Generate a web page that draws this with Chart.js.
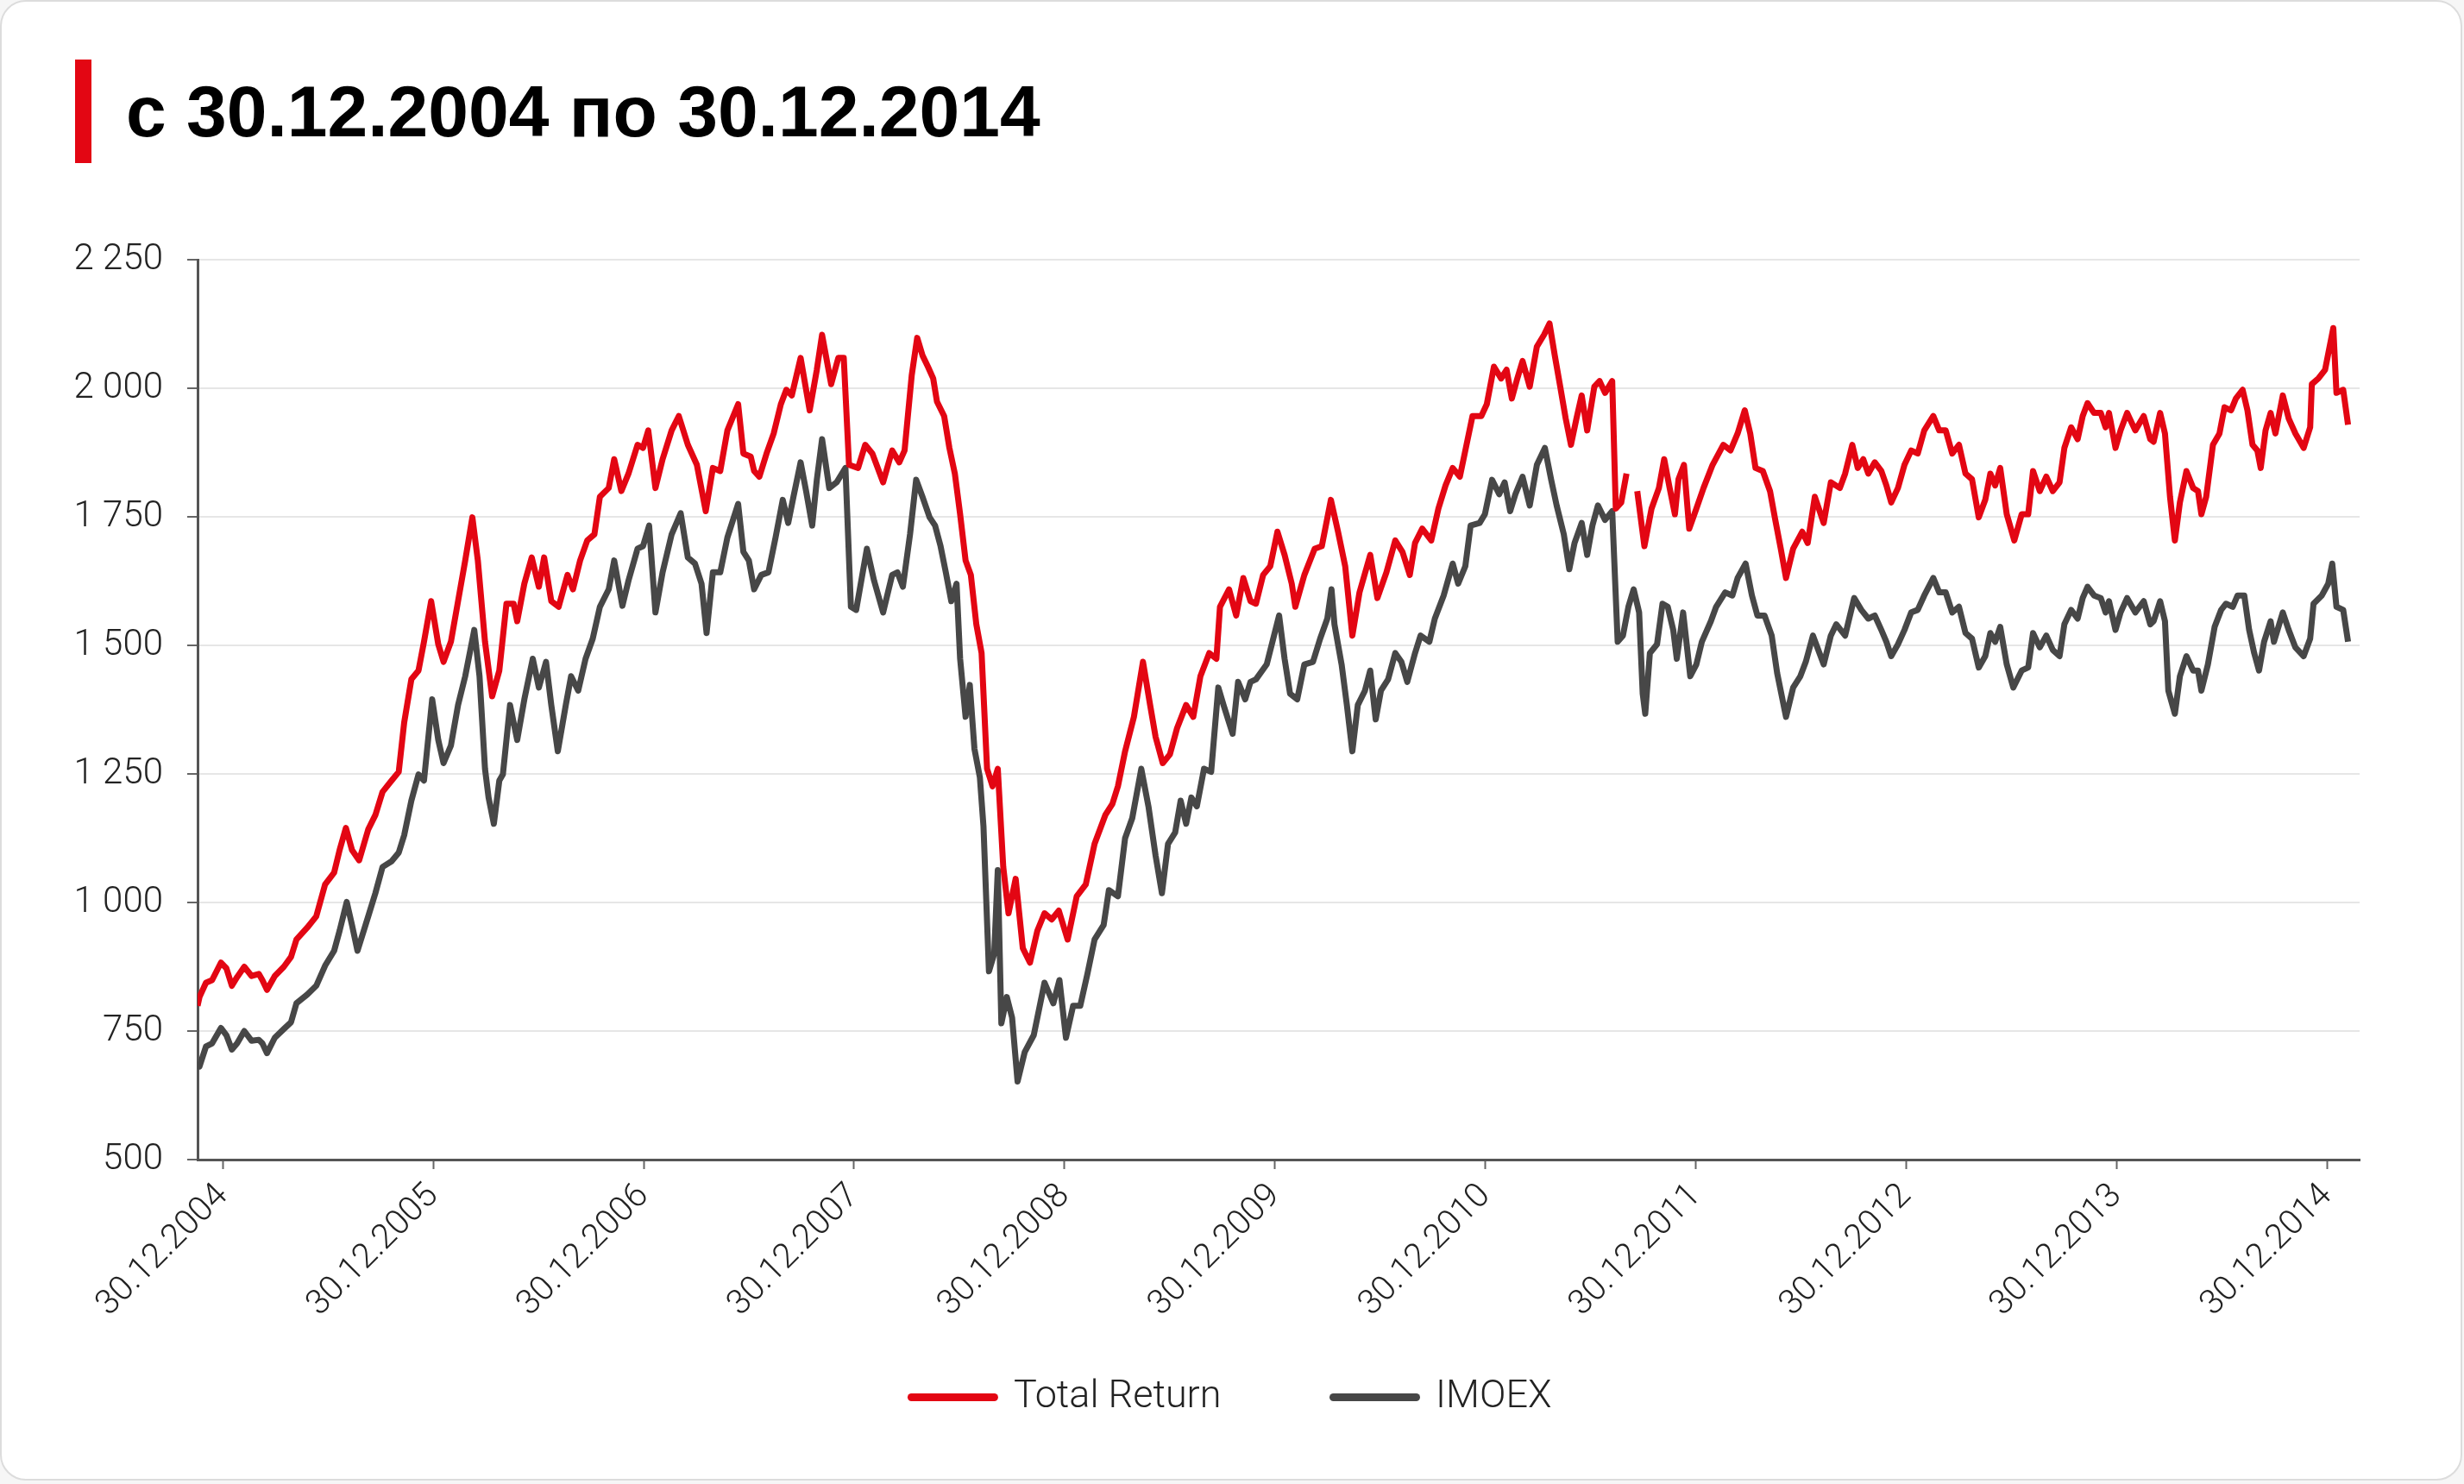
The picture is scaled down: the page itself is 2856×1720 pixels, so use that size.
<!DOCTYPE html>
<html>
<head>
<meta charset="utf-8">
<script src="https://cdn.jsdelivr.net/npm/chart.js@4.4.1/dist/chart.umd.min.js"></script>
<style>
  html, body { margin: 0; padding: 0; background: #f6f6f6; }
  .card {
    position: absolute; left: 0; top: 0; width: 2850px; height: 1712px;
    background: #fff; border: 2px solid #dcdcdc; border-radius: 30px;
  }
  .bar { position: absolute; left: 87px; top: 69px; width: 19px; height: 120px; background: #e30613; }
  .title {
    position: absolute; left: 146px; top: 87px; margin: 0;
    font: bold 84px/84px "Liberation Sans", Arial, sans-serif; color: #000; white-space: nowrap;
  }
  .wrap { position: absolute; left: 0; top: 0; width: 2856px; height: 1720px; }
</style>
</head>
<body>
<div class="card"></div>
<div class="bar"></div>
<h1 class="title">с 30.12.2004 по 30.12.2014</h1>
<div class="wrap"><canvas id="chart"></canvas></div>
<script>
// tick labels (x = years after 30.12.2004)
var tickLabels = ["30.12.2004", "30.12.2005", "30.12.2006", "30.12.2007", "30.12.2008", "30.12.2009",
  "30.12.2010", "30.12.2011", "30.12.2012", "30.12.2013", "30.12.2014"];

// Total Return
var trTime = [
  -0.12, -0.111, -0.08, -0.051, -0.009, 0.017, 0.043, 0.068, 0.102, 0.137, 0.171, 0.188, 0.21, 0.247, 0.29, 0.324, 0.35, 0.401, 0.444, 0.486,
  0.529, 0.555, 0.585, 0.614, 0.648, 0.691, 0.725, 0.759, 0.802, 0.836, 0.862, 0.896, 0.93, 0.956, 0.99, 1.024, 1.049, 1.084, 1.118, 1.152,
  1.186, 1.212, 1.246, 1.28, 1.314, 1.348, 1.382, 1.399, 1.433, 1.468, 1.502, 1.527, 1.561, 1.596, 1.638, 1.664, 1.698, 1.732, 1.766, 1.792,
  1.834, 1.86, 1.894, 1.928, 1.971, 1.997, 2.022, 2.056, 2.09, 2.133, 2.167, 2.21, 2.253, 2.295, 2.329, 2.364, 2.398, 2.449, 2.474, 2.509,
  2.525, 2.55, 2.584, 2.618, 2.652, 2.678, 2.704, 2.746, 2.789, 2.823, 2.848, 2.891, 2.925, 2.951, 2.976, 3.019, 3.053, 3.087, 3.138, 3.181,
  3.215, 3.24, 3.274, 3.3, 3.325, 3.351, 3.376, 3.394, 3.428, 3.453, 3.479, 3.504, 3.53, 3.555, 3.581, 3.606, 3.632, 3.658, 3.683, 3.709,
  3.734, 3.768, 3.802, 3.836, 3.871, 3.905, 3.939, 3.973, 4.015, 4.058, 4.101, 4.143, 4.194, 4.228, 4.254, 4.288, 4.33, 4.373, 4.407, 4.433,
  4.467, 4.501, 4.535, 4.578, 4.612, 4.646, 4.688, 4.722, 4.739, 4.782, 4.816, 4.85, 4.884, 4.91, 4.944, 4.978, 5.012, 5.046, 5.08, 5.097,
  5.14, 5.189, 5.223, 5.266, 5.3, 5.334, 5.368, 5.402, 5.453, 5.487, 5.53, 5.572, 5.606, 5.641, 5.666, 5.7, 5.743, 5.777, 5.811, 5.845,
  5.879, 5.905, 5.939, 5.981, 6.007, 6.041, 6.075, 6.101, 6.126, 6.152, 6.177, 6.211, 6.245, 6.279, 6.305, 6.33, 6.356, 6.382, 6.407, 6.433,
  6.458, 6.484, 6.518, 6.543, 6.569, 6.603, 6.62, 6.646, 6.671, 6.697, 6.722, 6.756, 6.79, 6.825, 6.85, 6.876, 6.901, 6.918, 6.944, 6.969,
  7.003, 7.037, 7.08, 7.131, 7.165, 7.199, 7.233, 7.259, 7.284, 7.319, 7.353, 7.378, 7.404, 7.429, 7.463, 7.506, 7.532, 7.566, 7.608, 7.642,
  7.685, 7.71, 7.744, 7.77, 7.796, 7.82, 7.851, 7.882, 7.906, 7.929, 7.961, 7.992, 8.024, 8.055, 8.086, 8.129, 8.157, 8.188, 8.219, 8.251,
  8.282, 8.313, 8.345, 8.376, 8.4, 8.423, 8.447, 8.478, 8.514, 8.549, 8.58, 8.603, 8.635, 8.666, 8.697, 8.729, 8.752, 8.784, 8.815, 8.839,
  8.862, 8.893, 8.925, 8.948, 8.964, 8.995, 9.019, 9.05, 9.089, 9.129, 9.16, 9.176, 9.207, 9.23, 9.254, 9.277, 9.301, 9.332, 9.364, 9.387,
  9.403, 9.426, 9.458, 9.489, 9.513, 9.544, 9.567, 9.599, 9.622, 9.646, 9.669, 9.685, 9.708, 9.732, 9.755, 9.79, 9.818, 9.85, 9.889, 9.92,
  9.928, 9.959, 9.991, 10.03, 10.045, 10.077, 10.1
];
var trValue = [
  799, 816, 844, 849, 883, 872, 838, 855, 875, 857, 861, 849, 830, 857, 875, 894, 928, 951, 973, 1035,
  1058, 1102, 1145, 1102, 1082, 1142, 1170, 1215, 1237, 1254, 1350, 1434, 1451, 1507, 1586, 1502, 1468, 1507, 1586, 1665,
  1749, 1665, 1507, 1401, 1451, 1581, 1581, 1547, 1620, 1671, 1614, 1671, 1586, 1575, 1637, 1609, 1665, 1704, 1716, 1789,
  1806, 1862, 1800, 1834, 1890, 1884, 1918, 1806, 1862, 1918, 1946, 1890, 1851, 1761, 1845, 1839, 1918, 1969, 1873, 1867,
  1839, 1828, 1873, 1912, 1969, 1997, 1986, 2059, 1957, 2036, 2104, 2008, 2059, 2059, 1851, 1845, 1890, 1873, 1817, 1879,
  1856, 1879, 2025, 2098, 2064, 2042, 2019, 1974, 1946, 1884, 1834, 1755, 1665, 1637, 1541, 1485, 1260, 1226, 1260, 1069,
  979, 1046, 911, 883, 945, 979, 967, 984, 928, 1012, 1035, 1114, 1170, 1192, 1226, 1294, 1361, 1468, 1384, 1322,
  1271, 1288, 1339, 1384, 1361, 1440, 1485, 1474, 1575, 1609, 1558, 1631, 1586, 1581, 1637, 1654, 1721, 1676, 1620, 1575,
  1637, 1688, 1693, 1783, 1721, 1654, 1519, 1603, 1676, 1592, 1642, 1704, 1682, 1637, 1699, 1727, 1704, 1766, 1811, 1845,
  1828, 1879, 1946, 1946, 1969, 2042, 2019, 2036, 1980, 2019, 2053, 2003, 2081, 2104, 2126, 2064, 2003, 1941, 1890, 1941,
  1986, 1918, 2003, 2014, 1991, 2014, 1766, 1778, 1834, null, 1800, 1693, 1766, 1806, 1862, 1806, 1755, 1823, 1851, 1727,
  1766, 1806, 1851, 1890, 1879, 1912, 1957, 1912, 1845, 1839, 1800, 1744, 1688, 1631, 1688, 1721, 1699, 1789, 1738, 1817,
  1806, 1834, 1890, 1845, 1862, 1834, 1856, 1839, 1811, 1778, 1806, 1851, 1879, 1873, 1918, 1946, 1918, 1918, 1873, 1890,
  1834, 1823, 1749, 1783, 1834, 1811, 1845, 1755, 1704, 1755, 1755, 1839, 1800, 1828, 1800, 1817, 1884, 1924, 1901, 1946,
  1971, 1952, 1952, 1924, 1952, 1884, 1918, 1952, 1918, 1946, 1901, 1896, 1952, 1912, 1789, 1704, 1778, 1839, 1806, 1800,
  1755, 1789, 1890, 1912, 1963, 1957, 1980, 1997, 1957, 1890, 1879, 1845, 1918, 1952, 1912, 1986, 1941, 1912, 1884, 1924,
  2008, 2019, 2036, 2117, 1991, 1997, 1929
];

// IMOEX
var imoexTime = [
  -0.12, -0.111, -0.08, -0.051, -0.009, 0.017, 0.043, 0.068, 0.102, 0.137, 0.171, 0.188, 0.21, 0.247, 0.29, 0.324, 0.35, 0.401, 0.444, 0.486,
  0.529, 0.555, 0.589, 0.614, 0.64, 0.691, 0.725, 0.759, 0.802, 0.836, 0.862, 0.896, 0.93, 0.956, 0.995, 1.024, 1.049, 1.084, 1.118, 1.152,
  1.195, 1.22, 1.246, 1.263, 1.288, 1.314, 1.331, 1.365, 1.399, 1.433, 1.473, 1.502, 1.536, 1.561, 1.592, 1.63, 1.655, 1.689, 1.724, 1.758,
  1.792, 1.834, 1.86, 1.899, 1.928, 1.971, 1.997, 2.026, 2.056, 2.09, 2.133, 2.176, 2.21, 2.244, 2.275, 2.299, 2.329, 2.364, 2.398, 2.449,
  2.474, 2.5, 2.525, 2.559, 2.593, 2.627, 2.661, 2.687, 2.712, 2.746, 2.772, 2.801, 2.823, 2.848, 2.882, 2.917, 2.959, 2.985, 3.01, 3.061,
  3.095, 3.138, 3.181, 3.206, 3.232, 3.266, 3.295, 3.325, 3.359, 3.385, 3.411, 3.436, 3.462, 3.487, 3.504, 3.53, 3.55, 3.572, 3.598, 3.615,
  3.641, 3.666, 3.683, 3.7, 3.726, 3.751, 3.777, 3.811, 3.854, 3.905, 3.947, 3.976, 4.007, 4.041, 4.075, 4.109, 4.143, 4.186, 4.211, 4.254,
  4.288, 4.322, 4.365, 4.399, 4.433, 4.463, 4.492, 4.526, 4.552, 4.578, 4.603, 4.629, 4.663, 4.697, 4.731, 4.756, 4.799, 4.825, 4.859, 4.884,
  4.91, 4.961, 5.02, 5.046, 5.072, 5.106, 5.14, 5.181, 5.215, 5.249, 5.269, 5.283, 5.317, 5.342, 5.368, 5.394, 5.428, 5.453, 5.479, 5.504,
  5.538, 5.572, 5.601, 5.629, 5.666, 5.692, 5.734, 5.76, 5.802, 5.845, 5.871, 5.905, 5.93, 5.973, 5.998, 6.032, 6.066, 6.092, 6.118, 6.143,
  6.177, 6.211, 6.245, 6.283, 6.313, 6.339, 6.373, 6.399, 6.424, 6.458, 6.484, 6.509, 6.535, 6.569, 6.603, 6.629, 6.654, 6.68, 6.705, 6.731,
  6.748, 6.76, 6.782, 6.816, 6.842, 6.867, 6.893, 6.91, 6.94, 6.974, 7.003, 7.029, 7.072, 7.097, 7.14, 7.174, 7.199, 7.237, 7.267, 7.293,
  7.327, 7.361, 7.387, 7.429, 7.463, 7.497, 7.523, 7.557, 7.608, 7.642, 7.668, 7.71, 7.753, 7.787, 7.82, 7.851, 7.882, 7.906, 7.929, 7.961,
  7.992, 8.024, 8.055, 8.086, 8.129, 8.157, 8.188, 8.219, 8.251, 8.282, 8.313, 8.345, 8.376, 8.4, 8.423, 8.447, 8.478, 8.509, 8.549, 8.58,
  8.603, 8.635, 8.666, 8.697, 8.729, 8.752, 8.784, 8.815, 8.839, 8.862, 8.893, 8.925, 8.948, 8.964, 8.995, 9.019, 9.05, 9.089, 9.129, 9.16,
  9.176, 9.207, 9.23, 9.246, 9.277, 9.301, 9.332, 9.364, 9.387, 9.403, 9.434, 9.466, 9.497, 9.52, 9.552, 9.575, 9.607, 9.63, 9.654, 9.677,
  9.701, 9.732, 9.748, 9.79, 9.818, 9.85, 9.889, 9.92, 9.936, 9.975, 10.006, 10.025, 10.045, 10.077, 10.1
];
var imoexValue = [
  686, 681, 720, 726, 756, 742, 714, 726, 750, 731, 733, 726, 707, 737, 754, 767, 804, 821, 838, 877,
  906, 945, 1001, 956, 906, 973, 1018, 1069, 1080, 1097, 1131, 1198, 1249, 1237, 1395, 1316, 1271, 1305, 1384, 1440,
  1530, 1440, 1260, 1204, 1153, 1237, 1249, 1384, 1316, 1395, 1474, 1418, 1468, 1384, 1294, 1384, 1440, 1412, 1474, 1513,
  1575, 1609, 1665, 1577, 1626, 1688, 1693, 1733, 1564, 1642, 1716, 1757, 1671, 1659, 1620, 1524, 1642, 1642, 1710, 1775,
  1682, 1665, 1609, 1637, 1642, 1710, 1783, 1738, 1789, 1856, 1800, 1733, 1822, 1901, 1806, 1817, 1845, 1575, 1569, 1688,
  1626, 1564, 1637, 1642, 1614, 1716, 1822, 1789, 1749, 1733, 1693, 1642, 1586, 1620, 1474, 1361, 1423, 1299, 1243, 1148,
  866, 900, 1063, 765, 816, 776, 652, 709, 742, 844, 804, 849, 737, 799, 799, 861, 928, 956, 1024, 1012,
  1125, 1164, 1260, 1187, 1091, 1018, 1114, 1136, 1198, 1153, 1204, 1187, 1260, 1254, 1418, 1384, 1328, 1429, 1395, 1429,
  1434, 1463, 1558, 1474, 1406, 1395, 1463, 1468, 1513, 1552, 1609, 1541, 1463, 1384, 1294, 1384, 1412, 1451, 1356, 1412,
  1434, 1485, 1468, 1429, 1485, 1519, 1507, 1552, 1597, 1659, 1620, 1654, 1733, 1738, 1755, 1822, 1794, 1817, 1761, 1794,
  1828, 1772, 1851, 1884, 1822, 1772, 1716, 1648, 1699, 1738, 1676, 1733, 1772, 1744, 1761, 1507, 1519, 1575, 1609, 1564,
  1406, 1367, 1485, 1502, 1581, 1575, 1530, 1474, 1564, 1440, 1463, 1507, 1547, 1575, 1603, 1597, 1631, 1659, 1597, 1558,
  1558, 1519, 1446, 1361, 1418, 1440, 1468, 1519, 1463, 1519, 1541, 1519, 1592, 1569, 1552, 1558, 1530, 1507, 1479, 1502,
  1530, 1564, 1569, 1597, 1631, 1603, 1603, 1564, 1575, 1524, 1513, 1457, 1479, 1524, 1507, 1536, 1463, 1418, 1451, 1457,
  1524, 1496, 1519, 1491, 1479, 1541, 1569, 1552, 1592, 1614, 1597, 1592, 1564, 1586, 1530, 1564, 1592, 1564, 1586, 1541,
  1547, 1586, 1547, 1412, 1367, 1440, 1479, 1451, 1451, 1412, 1463, 1536, 1569, 1581, 1575, 1597, 1597, 1530, 1485, 1451,
  1507, 1547, 1507, 1564, 1530, 1496, 1479, 1513, 1581, 1597, 1620, 1659, 1575, 1569, 1507
];

var RED = "#e30613";
var GRAY = "#474747";
var labelFont = "Roboto, 'Liberation Sans', Arial, sans-serif";

function toPoints(times, values) {
  return times.map(function (t, i) {
    return { x: t, y: values[i] };
  });
}

function formatThousands(v) {
  return String(v).replace(/\B(?=(\d{3})+(?!\d))/g, " ");
}

// move the legend box: centred on the page and closer to the axis labels
var legendShift = {
  id: "legendShift",
  afterLayout: function (chart) {
    var lg = chart.legend;
    if (!lg) return;
    lg.left += 60;
    lg.right += 60;
    lg.top -= 67;
    lg.bottom -= 67;
  },
};

new Chart(document.getElementById("chart"), {
  type: "line",
  data: {
    datasets: [
      {
        label: "Total Return",
        data: toPoints(trTime, trValue),
        borderColor: RED,
        backgroundColor: RED,
        borderWidth: 7,
        pointRadius: 0,
        tension: 0,
        borderJoinStyle: "round",
        spanGaps: false,
      },
      {
        label: "IMOEX",
        data: toPoints(imoexTime, imoexValue),
        borderColor: GRAY,
        backgroundColor: GRAY,
        borderWidth: 7,
        pointRadius: 0,
        tension: 0,
        borderJoinStyle: "round",
      },
    ],
  },
  plugins: [legendShift],
  options: {
    responsive: true,
    maintainAspectRatio: false,
    animation: false,
    layout: { padding: { top: 301, left: 0, right: 121, bottom: 1 } },
    plugins: {
      tooltip: { enabled: false },
      legend: {
        position: "bottom",
        labels: {
          usePointStyle: true,
          pointStyle: "line",
          pointStyleWidth: 96,
          padding: 130,
          color: "#222",
          font: { family: labelFont, size: 45, weight: "300" },
          generateLabels: function (chart) {
            var items = Chart.defaults.plugins.legend.labels.generateLabels(chart);
            items.forEach(function (it) {
              it.lineWidth = 9;
              it.lineCap = "round";
              it.pointStyle = "line";
            });
            return items;
          },
        },
      },
    },
    scales: {
      x: {
        type: "linear",
        min: -0.12,
        max: 10.155,
        afterBuildTicks: function (scale) {
          scale.ticks = tickLabels.map(function (_, i) {
            return { value: i };
          });
        },
        afterFit: function (scale) {
          scale.height = 190;
        },
        ticks: {
          autoSkip: false,
          maxRotation: 45,
          minRotation: 45,
          padding: 8,
          color: "#222",
          font: { family: labelFont, size: 40, weight: "300" },
          callback: function (v) {
            return tickLabels[v];
          },
        },
        grid: { drawOnChartArea: false, tickLength: 11, tickColor: "#666", tickWidth: 2 },
        border: { color: "#555", width: 3 },
      },
      y: {
        min: 500,
        max: 2250,
        afterFit: function (scale) {
          scale.width = 229;
        },
        ticks: {
          stepSize: 250,
          padding: 28,
          color: "#222",
          font: { family: labelFont, size: 42, weight: "300" },
          callback: function (v) {
            return formatThousands(v);
          },
        },
        grid: { color: "#e6e6e6", lineWidth: 2, tickLength: 12, tickColor: "#666", tickWidth: 2 },
        border: { color: "#555", width: 3 },
      },
    },
  },
});
</script>
</body>
</html>
